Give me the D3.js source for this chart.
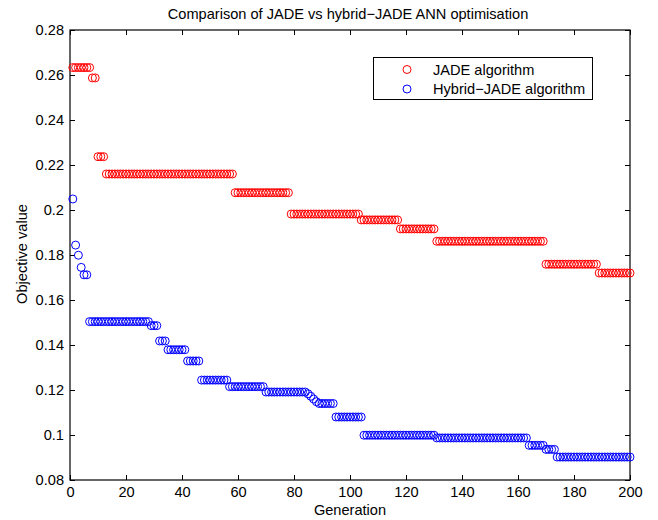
<!DOCTYPE html>
<html>
<head>
<meta charset="utf-8">
<script src="https://cdn.jsdelivr.net/npm/d3@7"></script>
<style>
body{margin:0;background:#fff;}
text{font-family:"Liberation Sans",Arial,sans-serif;}
</style>
</head>
<body>
<script>
var w=658,h=520,fs='14.6px';
var margin={left:70,right:28,top:30,bottom:40};

// step levels, with how many generations each level lasts
var jadeLevels=[0.2633,0.2587,0.2237,0.216,0.2077,0.1982,0.1956,0.1916,0.1861,0.1759,0.172];
var jadeRuns=[7,2,3,46,20,25,14,13,39,19,12];
var hybridLevels=[0.2049,0.1844,0.1799,0.1745,0.1712,0.1504,0.1486,0.1418,0.1379,0.1329,0.1244,0.1215,0.1191,0.1183,0.1172,0.116,0.1148,0.114,0.108,0.0999,0.0987,0.0954,0.0936,0.0902];
var hybridRuns=[1,1,1,1,2,22,3,3,7,5,10,13,15,1,1,1,1,6,10,26,33,6,4,27];
var xTicks=[0,20,40,60,80,100,120,140,160,180,200];
var yTicks=[0.08,0.1,0.12,0.14,0.16,0.18,0.2,0.22,0.24,0.26,0.28];

function expand(levels,runs){
  var out=[],g=1;
  levels.forEach(function(v,i){
    for(var k=0;k<runs[i];k++){ out.push({gen:g,val:v}); g++; }
  });
  return out;
}
var jade=expand(jadeLevels,jadeRuns);
var hybrid=expand(hybridLevels,hybridRuns);

var svg=d3.select('body').append('svg').attr('width',w).attr('height',h);
var x=d3.scaleLinear().domain([0,200]).range([margin.left,w-margin.right]);
var y=d3.scaleLinear().domain([0.08,0.28]).range([h-margin.bottom,margin.top]);
var fmt=function(d){return String(+d.toFixed(2));};

// axes, MATLAB style box with inward ticks
svg.append('g').attr('transform','translate(0,'+y(0.08)+')')
  .call(d3.axisBottom(x).tickValues(xTicks).tickSizeInner(-5).tickSizeOuter(0).tickPadding(7))
  .call(function(g){g.select('.domain').remove();});
svg.append('g').attr('transform','translate(0,'+y(0.28)+')')
  .call(d3.axisTop(x).tickValues(xTicks).tickSizeInner(-5).tickSizeOuter(0).tickFormat(''))
  .call(function(g){g.select('.domain').remove();});
svg.append('g').attr('transform','translate('+x(0)+',0)')
  .call(d3.axisLeft(y).tickValues(yTicks).tickSizeInner(-5).tickSizeOuter(0).tickPadding(6).tickFormat(fmt))
  .call(function(g){g.select('.domain').remove();});
svg.append('g').attr('transform','translate('+x(200)+',0)')
  .call(d3.axisRight(y).tickValues(yTicks).tickSizeInner(-5).tickSizeOuter(0).tickFormat(''))
  .call(function(g){g.select('.domain').remove();});
svg.selectAll('.tick line').attr('stroke','#000');
svg.selectAll('.tick text').style('font-size',fs).attr('fill','#000');

svg.append('rect').attr('x',x(0)).attr('y',y(0.28))
  .attr('width',x(200)-x(0)).attr('height',y(0.08)-y(0.28))
  .attr('fill','none').attr('stroke','#000').attr('stroke-width',1.2);

svg.selectAll('circle.jade').data(jade).enter().append('circle').attr('class','jade')
  .attr('cx',function(d){return x(d.gen);})
  .attr('cy',function(d){return y(d.val);})
  .attr('r',4).attr('fill','none').attr('stroke','#ff0000').attr('stroke-width',1);
svg.selectAll('circle.hyb').data(hybrid).enter().append('circle').attr('class','hyb')
  .attr('cx',function(d){return x(d.gen);})
  .attr('cy',function(d){return y(d.val);})
  .attr('r',4).attr('fill','none').attr('stroke','#0000ff').attr('stroke-width',1);

// titles
svg.append('text').attr('x',348).attr('y',19).attr('text-anchor','middle')
  .style('font-size',fs).text('Comparison of JADE vs hybrid\u2212JADE ANN optimisation');
svg.append('text').attr('x',350).attr('y',515).attr('text-anchor','middle')
  .style('font-size',fs).text('Generation');
svg.append('text').attr('transform','translate(27,254) rotate(-90)').attr('text-anchor','middle')
  .style('font-size',fs).text('Objective value');

// legend
var lg=svg.append('g');
lg.append('rect').attr('x',373.5).attr('y',57.5).attr('width',219).attr('height',42)
  .attr('fill','#fff').attr('stroke','#000').attr('stroke-width',1);
var items=[{name:'JADE algorithm',c:'#ff0000'},{name:'Hybrid\u2212JADE algorithm',c:'#0000ff'}];
lg.selectAll('circle').data(items).enter().append('circle')
  .attr('cx',407).attr('cy',function(d,i){return 69.5+i*19.5;}).attr('r',4)
  .attr('fill','none').attr('stroke',function(d){return d.c;});
lg.selectAll('text').data(items).enter().append('text')
  .attr('x',433).attr('y',function(d,i){return 74.5+i*19.5;})
  .style('font-size',fs).text(function(d){return d.name;});
</script>
</body>
</html>
